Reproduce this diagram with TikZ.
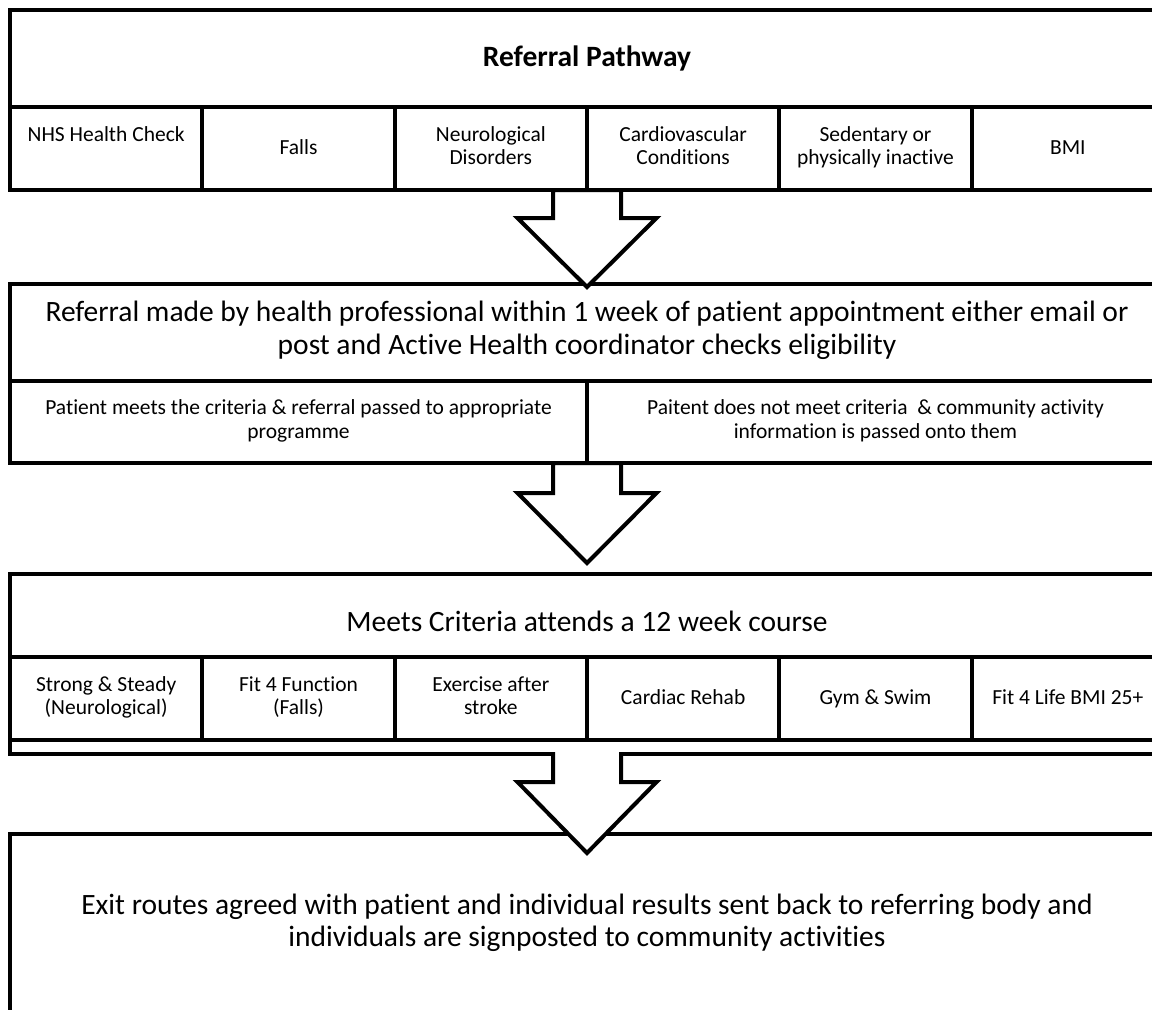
\documentclass[tikz,border=0pt]{standalone}
\usepackage{fontspec}
\setmainfont{Carlito}[Ligatures=NoCommon]
\usepackage{tikz}
\usetikzlibrary{positioning,calc}

\begin{document}
\begin{tikzpicture}[
                    x=1pt, y=-1pt,
                    node distance=0pt and 0pt,
                    every node/.style={align=center, inner sep=0pt, outer sep=0pt},
                    frame/.style={draw, line width=4pt, minimum width=1154pt},
                    heading/.style={frame, font=\fontsize{29.5}{32}\selectfont,
                        execute at begin node={\rule{0pt}{25pt}}, execute at end node={\rule[-9pt]{0pt}{9pt}}},
                    cell/.style={draw, line width=4pt, minimum width=192.33pt, minimum height=83pt, font=\fontsize{21.5}{23.5}\selectfont,
                        execute at begin node={\rule{0pt}{18.5pt}}, execute at end node={\rule[-6pt]{0pt}{6pt}}},
                    halfcell/.style={cell, minimum width=577pt, minimum height=82pt},
                    flow/.style={draw, line width=4pt, fill=white, line join=miter}
                ]
                    \useasboundingbox (0,0) rectangle (1152,1010);
                    \clip (0,0) rectangle (1152,1010);

                    % Stage frames
                    \node (s1) [frame, minimum height=180pt] at (587,100) {};
                    \node (s2) [frame, minimum height=179pt] at (587,373.5) {};
                    \node (s3) [frame, minimum height=180pt] at (587,664) {};
                    \node (s4) [heading, minimum height=182pt] at (587,925) {Exit routes agreed with patient and individual results sent back to referring body and\\individuals are signposted to community activities};

                    % Referral pathway
                    \node (t1) [heading, minimum height=97pt, below=of s1.north, font=\fontsize{29.5}{32}\selectfont\bfseries] {Referral Pathway};
                    \node (c11) [cell, below right=of t1.south west] {NHS Health Check\\ \mbox{}};
                    \node (c12) [cell, right=of c11] {Falls};
                    \node (c13) [cell, right=of c12] {Neurological\\Disorders};
                    \node (c14) [cell, right=of c13] {Cardiovascular\\Conditions};
                    \node (c15) [cell, right=of c14] {Sedentary or\\physically inactive};
                    \node (c16) [cell, right=of c15] {BMI};

                    % Referral and eligibility check
                    \node (t2) [heading, minimum height=97pt, below=of s2.north, font=\fontsize{29.5}{33}\selectfont] {Referral made by health professional within 1 week of patient appointment either email or\\post and Active Health coordinator checks eligibility};
                    \node (c21) [halfcell, below right=of t2.south west] {Patient meets the criteria \& referral passed to appropriate\\programme};
                    \node (c22) [halfcell, right=of c21] {Paitent does not meet criteria \ \& community activity\\information is passed onto them};

                    % 12 week course
                    \node (t3) [heading, minimum height=83pt, below=of s3.north, execute at begin node={\rule{0pt}{40pt}}] {Meets Criteria attends a 12 week course};
                    \node (c31) [cell, below right=of t3.south west] {Strong \& Steady\\(Neurological)};
                    \node (c32) [cell, right=of c31] {Fit 4 Function\\(Falls)};
                    \node (c33) [cell, right=of c32] {Exercise after\\stroke};
                    \node (c34) [cell, right=of c33] {Cardiac Rehab};
                    \node (c35) [cell, right=of c34] {Gym \& Swim};
                    \node (c36) [cell, right=of c35] {Fit 4 Life BMI 25+};

                    % Arrows
                    \path[flow] ($(s1.south)+(-34,0)$) -- ++(0,28) -- ++(-35.5,0) -- ($(s1.south)+(0,97)$) -- ($(s1.south)+(69.5,28)$) -- ++(-35.5,0) -- ++(0,-28) -- cycle;
                    \path[flow] ($(s2.south)+(-34,0)$) -- ++(0,30) -- ++(-35.5,0) -- ($(s2.south)+(0,100)$) -- ($(s2.south)+(69.5,30)$) -- ++(-35.5,0) -- ++(0,-30) -- cycle;
                    \path[flow] ($(s3.south)+(-34,-2)$) -- ++(0,30) -- ++(-35.5,0) -- ($(s3.south)+(0,99)$) -- ($(s3.south)+(69.5,28)$) -- ++(-35.5,0) -- ++(0,-30);

                \end{tikzpicture}
\end{document}
